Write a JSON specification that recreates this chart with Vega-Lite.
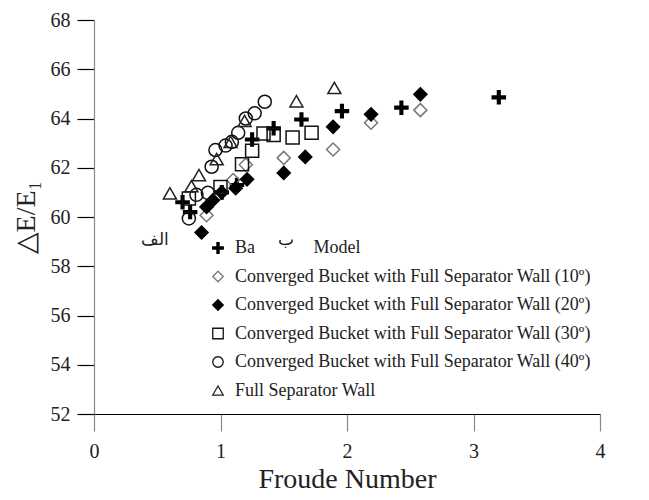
{
  "$schema": "https://vega.github.io/schema/vega-lite/v6.json",
  "autosize": {"type": "none"},
  "width": 506,
  "height": 394,
  "padding": {"left": 94, "top": 20, "right": 49, "bottom": 86},
  "background": "white",
  "config": {
    "view": {"stroke": null},
    "font": "Liberation Serif",
    "axis": {"grid": false, "labelFont": "Liberation Serif", "titleFont": "Liberation Serif", "titleFontWeight": "normal", "labelColor": "#222", "titleColor": "#222"},
    "legend": {"labelFont": "Liberation Serif"}
  },
  "datasets": {
    "points": [
      {"series": "Base Model", "fr": 0.70, "de": 60.6},
      {"series": "Base Model", "fr": 0.76, "de": 60.2},
      {"series": "Base Model", "fr": 1.01, "de": 61.0},
      {"series": "Base Model", "fr": 1.13, "de": 61.3},
      {"series": "Base Model", "fr": 1.25, "de": 63.15},
      {"series": "Base Model", "fr": 1.42, "de": 63.6},
      {"series": "Base Model", "fr": 1.64, "de": 63.96},
      {"series": "Base Model", "fr": 1.96, "de": 64.3},
      {"series": "Base Model", "fr": 2.43, "de": 64.44},
      {"series": "Base Model", "fr": 3.2, "de": 64.86},

      {"series": "Converged Bucket with Full Separator Wall (10º)", "fr": 0.89, "de": 60.07},
      {"series": "Converged Bucket with Full Separator Wall (10º)", "fr": 1.1, "de": 61.5},
      {"series": "Converged Bucket with Full Separator Wall (10º)", "fr": 1.2, "de": 62.12},
      {"series": "Converged Bucket with Full Separator Wall (10º)", "fr": 1.5, "de": 62.4},
      {"series": "Converged Bucket with Full Separator Wall (10º)", "fr": 1.89, "de": 62.74},
      {"series": "Converged Bucket with Full Separator Wall (10º)", "fr": 2.19, "de": 63.83},
      {"series": "Converged Bucket with Full Separator Wall (10º)", "fr": 2.58, "de": 64.34},

      {"series": "Converged Bucket with Full Separator Wall (20º)", "fr": 0.85, "de": 59.37},
      {"series": "Converged Bucket with Full Separator Wall (20º)", "fr": 0.89, "de": 60.41},
      {"series": "Converged Bucket with Full Separator Wall (20º)", "fr": 0.94, "de": 60.68},
      {"series": "Converged Bucket with Full Separator Wall (20º)", "fr": 1.01, "de": 61.0},
      {"series": "Converged Bucket with Full Separator Wall (20º)", "fr": 1.12, "de": 61.17},
      {"series": "Converged Bucket with Full Separator Wall (20º)", "fr": 1.21, "de": 61.53},
      {"series": "Converged Bucket with Full Separator Wall (20º)", "fr": 1.5, "de": 61.79},
      {"series": "Converged Bucket with Full Separator Wall (20º)", "fr": 1.67, "de": 62.44},
      {"series": "Converged Bucket with Full Separator Wall (20º)", "fr": 1.89, "de": 63.66},
      {"series": "Converged Bucket with Full Separator Wall (20º)", "fr": 2.19, "de": 64.17},
      {"series": "Converged Bucket with Full Separator Wall (20º)", "fr": 2.58, "de": 64.98},

      {"series": "Converged Bucket with Full Separator Wall (30º)", "fr": 0.75, "de": 60.75},
      {"series": "Converged Bucket with Full Separator Wall (30º)", "fr": 1.0, "de": 61.22},
      {"series": "Converged Bucket with Full Separator Wall (30º)", "fr": 1.17, "de": 62.14},
      {"series": "Converged Bucket with Full Separator Wall (30º)", "fr": 1.25, "de": 62.69},
      {"series": "Converged Bucket with Full Separator Wall (30º)", "fr": 1.34, "de": 63.39},
      {"series": "Converged Bucket with Full Separator Wall (30º)", "fr": 1.42, "de": 63.33},
      {"series": "Converged Bucket with Full Separator Wall (30º)", "fr": 1.57, "de": 63.23},
      {"series": "Converged Bucket with Full Separator Wall (30º)", "fr": 1.72, "de": 63.42},

      {"series": "Converged Bucket with Full Separator Wall (40º)", "fr": 0.75, "de": 59.94},
      {"series": "Converged Bucket with Full Separator Wall (40º)", "fr": 0.81, "de": 60.9},
      {"series": "Converged Bucket with Full Separator Wall (40º)", "fr": 0.9, "de": 60.98},
      {"series": "Converged Bucket with Full Separator Wall (40º)", "fr": 0.93, "de": 62.04},
      {"series": "Converged Bucket with Full Separator Wall (40º)", "fr": 0.96, "de": 62.72},
      {"series": "Converged Bucket with Full Separator Wall (40º)", "fr": 1.04, "de": 62.9},
      {"series": "Converged Bucket with Full Separator Wall (40º)", "fr": 1.09, "de": 63.05},
      {"series": "Converged Bucket with Full Separator Wall (40º)", "fr": 1.14, "de": 63.42},
      {"series": "Converged Bucket with Full Separator Wall (40º)", "fr": 1.2, "de": 64.0},
      {"series": "Converged Bucket with Full Separator Wall (40º)", "fr": 1.27, "de": 64.21},
      {"series": "Converged Bucket with Full Separator Wall (40º)", "fr": 1.35, "de": 64.68},

      {"series": "Full Separator Wall", "fr": 0.6, "de": 60.96},
      {"series": "Full Separator Wall", "fr": 0.77, "de": 61.25},
      {"series": "Full Separator Wall", "fr": 0.83, "de": 61.7},
      {"series": "Full Separator Wall", "fr": 0.97, "de": 62.35},
      {"series": "Full Separator Wall", "fr": 1.08, "de": 63.05},
      {"series": "Full Separator Wall", "fr": 1.19, "de": 63.9},
      {"series": "Full Separator Wall", "fr": 1.6, "de": 64.7},
      {"series": "Full Separator Wall", "fr": 1.9, "de": 65.24}
    ],
    "notes": [
      {"label": "الف", "fr": 0.48, "de": 59.05},
      {"label": "ب", "fr": 1.52, "de": 59.05}
    ]
  },
  "layer": [
    {
      "data": {"name": "points"},
      "mark": {"type": "point", "size": 170, "strokeWidth": 1.5, "opacity": 1},
      "encoding": {
        "x": {
          "field": "fr", "type": "quantitative",
          "scale": {"domain": [0, 4], "nice": false, "zero": false},
          "axis": {
            "title": "Froude Number",
            "titleFont": "Liberation Serif",
            "titleFontSize": 28,
            "titlePadding": 4,
            "values": [0, 0.5, 1, 1.5, 2, 2.5, 3, 3.5, 4],
            "format": "d",
            "labelExpr": "datum.value % 1 === 0 ? datum.label : ''",
            "labelFont": "Liberation Serif",
            "labelFontSize": 20,
            "labelPadding": 10,
            "labelFlush": false,
            "domainColor": "#000",
            "domainWidth": 1.2,
            "tickColor": "#888",
            "tickWidth": 1.2,
            "tickSize": {"condition": {"test": "datum.value % 1 !== 0", "value": 9}, "value": 17}
          }
        },
        "y": {
          "field": "de", "type": "quantitative",
          "scale": {"domain": [52, 68], "nice": false, "zero": false},
          "axis": {
            "title": "△E/E₁",
            "titleFont": "Liberation Serif",
            "titleFontSize": 28,
            "titlePadding": 10,
            "values": [52, 53, 54, 55, 56, 57, 58, 59, 60, 61, 62, 63, 64, 65, 66, 67, 68],
            "format": "d",
            "labelExpr": "datum.value % 2 === 0 ? datum.label : ''",
            "labelFont": "Liberation Serif",
            "labelFontSize": 20,
            "labelPadding": 7,
            "labelFlush": false,
            "domainColor": "#888",
            "domainWidth": 1.2,
            "tickWidth": 1.2,
            "tickColor": {"condition": {"test": "datum.value % 2 !== 0", "value": "#888"}, "value": "#000"},
            "tickSize": {"condition": {"test": "datum.value % 2 !== 0", "value": 9}, "value": 17}
          }
        },
        "shape": {
          "field": "series", "type": "nominal",
          "scale": {
            "domain": ["Base Model", "Converged Bucket with Full Separator Wall (10º)", "Converged Bucket with Full Separator Wall (20º)", "Converged Bucket with Full Separator Wall (30º)", "Converged Bucket with Full Separator Wall (40º)", "Full Separator Wall"],
            "range": ["M-1,-0.2H1V0.2H-1Z M-0.2,-1H0.2V1H-0.2Z", "diamond", "diamond", "square", "circle", "triangle-up"]
          },
          "legend": {
            "title": null,
            "orient": "none",
            "legendX": 115,
            "legendY": 219,
            "labelFontSize": 18,
            "labelColor": "#222",
            "symbolSize": 110,
            "symbolStrokeWidth": 1.3,
            "labelOffset": 8,
            "rowPadding": 10.5,
            "labelLimit": 400,
            "labelExpr": "datum.label === 'Base Model' ? 'Ba\u00a0\u00a0\u00a0\u00a0\u00a0\u00a0\u00a0\u00a0\u00a0\u00a0\u00a0\u00a0\u00a0Model' : datum.label"
          }
        },
        "fill": {
          "field": "series", "type": "nominal",
          "scale": {
            "domain": ["Base Model", "Converged Bucket with Full Separator Wall (10º)", "Converged Bucket with Full Separator Wall (20º)", "Converged Bucket with Full Separator Wall (30º)", "Converged Bucket with Full Separator Wall (40º)", "Full Separator Wall"],
            "range": ["#000000", "transparent", "#000000", "transparent", "transparent", "transparent"]
          },
          "legend": {
            "title": null,
            "orient": "none",
            "legendX": 115,
            "legendY": 219,
            "labelFontSize": 18,
            "labelColor": "#222",
            "symbolSize": 110,
            "symbolStrokeWidth": 1.3,
            "labelOffset": 8,
            "rowPadding": 10.5,
            "labelLimit": 400,
            "labelExpr": "datum.label === 'Base Model' ? 'Ba\u00a0\u00a0\u00a0\u00a0\u00a0\u00a0\u00a0\u00a0\u00a0\u00a0\u00a0\u00a0\u00a0Model' : datum.label"
          }
        },
        "stroke": {
          "field": "series", "type": "nominal",
          "scale": {
            "domain": ["Base Model", "Converged Bucket with Full Separator Wall (10º)", "Converged Bucket with Full Separator Wall (20º)", "Converged Bucket with Full Separator Wall (30º)", "Converged Bucket with Full Separator Wall (40º)", "Full Separator Wall"],
            "range": ["#000000", "#777777", "#000000", "#111111", "#111111", "#222222"]
          },
          "legend": {
            "title": null,
            "orient": "none",
            "legendX": 115,
            "legendY": 219,
            "labelFontSize": 18,
            "labelColor": "#222",
            "symbolSize": 110,
            "symbolStrokeWidth": 1.3,
            "labelOffset": 8,
            "rowPadding": 10.5,
            "labelLimit": 400,
            "labelExpr": "datum.label === 'Base Model' ? 'Ba\u00a0\u00a0\u00a0\u00a0\u00a0\u00a0\u00a0\u00a0\u00a0\u00a0\u00a0\u00a0\u00a0Model' : datum.label"
          }
        }
      }
    },
    {
      "data": {"name": "notes"},
      "mark": {"type": "text", "font": "DejaVu Serif", "fontSize": 17, "color": "#222"},
      "encoding": {
        "x": {"field": "fr", "type": "quantitative"},
        "y": {"field": "de", "type": "quantitative"},
        "text": {"field": "label", "type": "nominal"}
      }
    }
  ]
}
